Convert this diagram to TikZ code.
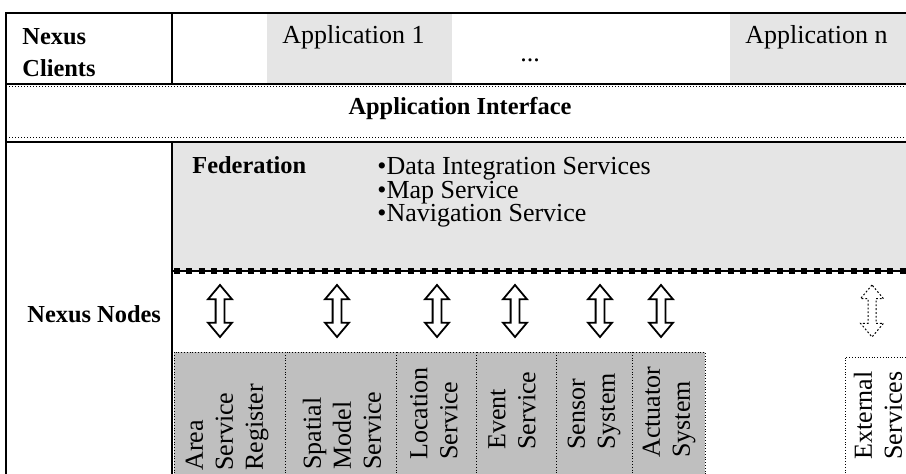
\documentclass[tikz,border=0pt]{standalone}
\usepackage{fontspec}
\setmainfont{Liberation Serif}
\usetikzlibrary{shapes.arrows}

\begin{document}
\begin{tikzpicture}[x=0.5pt,y=-0.5pt,
    lbl/.style={font=\fontsize{12.2}{16}\selectfont\bfseries, inner sep=0pt},
    txt/.style={font=\fontsize{13}{11.8}\selectfont, inner sep=0pt},
    svc/.style={font=\fontsize{13}{15}\selectfont, rotate=90, align=left, anchor=west, inner sep=0pt},
    svcbox/.style={fill=black!25, draw, densely dotted, line width=0.4pt},
    updown/.style={shape=double arrow, draw, fill=white, line width=0.9pt, rotate=90,
        minimum height=26pt, inner xsep=0pt, inner ysep=1.75pt,
        double arrow head extend=3.75pt, double arrow tip angle=80}]
    \useasboundingbox (0,0) rectangle (906,474);
    \clip (0,0) rectangle (906,474);

    % clients row
    \fill[black!10] (267,14) rectangle (452,84);
    \fill[black!10] (730,14) rectangle (906,84);
    \node[lbl, align=left, anchor=north west] (clients) at (22,28) {Nexus\\Clients};
    \node[txt, anchor=west] (app1) at (282,37) {Application 1};
    \node[txt, anchor=base] (dots) at (530,62) {...};
    \node[txt, anchor=west] (appn) at (745,37) {Application n};

    % interface row
    \node[lbl, anchor=base] (api) at (460,115) {Application Interface};

    % nodes row
    \fill[black!10] (173,142) rectangle (906,271);
    \node[lbl, anchor=base west] (nodes) at (27,323) {Nexus Nodes};
    \node[lbl, anchor=base west] (fed) at (192,174) {Federation};
    \node[txt, align=left, anchor=north west] (fedlist) at (377,157)
        {\textbullet Data Integration Services\\\textbullet Map Service\\\textbullet Navigation Service};
    \draw[line width=0.7pt] (173,271) -- (906,271);
    \draw[line width=3pt, dash pattern=on 3pt off 3.15pt] (174,271) -- (906,271);

    % services
    \draw[svcbox] (174,352) rectangle (285,476);
    \draw[svcbox] (285,352) rectangle (396,476);
    \draw[svcbox] (396,352) rectangle (476,476);
    \draw[svcbox] (476,352) rectangle (556,476);
    \draw[svcbox] (556,352) rectangle (632,476);
    \draw[svcbox] (632,352) rectangle (705,476);
    \draw[densely dotted, line width=0.4pt] (845,476) -- (845,357) -- (908,357);

    \node[svc] (area) at (227,471) {Area\\Service\\Register};
    \node[svc] (spatial) at (342,470) {Spatial\\Model\\Service};
    \node[svc] (location) at (434,460) {Location\\Service};
    \node[svc] (event) at (512,450) {Event\\Service};
    \node[svc] (sensor) at (594,450) {Sensor\\System};
    \node[svc] (actuator) at (669,458) {Actuator\\System};
    \node[svc] (external) at (878,460) {External\\Services};

    \node[updown] (a1) at (220,311) {};
    \node[updown] (a2) at (337,311) {};
    \node[updown] (a3) at (437,311) {};
    \node[updown] (a4) at (515,311) {};
    \node[updown] (a5) at (600,311) {};
    \node[updown] (a6) at (661,311) {};
    \node[updown, densely dotted, line width=0.5pt] (a7) at (872,311) {};

    % frame
    \draw[line width=0.7pt] (6,84) -- (906,84);
    \draw[densely dotted, line width=0.5pt] (6,87) -- (906,87);
    \draw[densely dotted, line width=0.5pt] (6,138) -- (906,138);
    \draw[line width=0.7pt] (6,142) -- (906,142);
    \draw[line width=0.8pt] (172,13) -- (172,84);
    \draw[line width=0.8pt] (172,142) -- (172,476);
    \draw[line width=1.3pt] (6,476) -- (6,13) -- (908,13);
\end{tikzpicture}
\end{document}
